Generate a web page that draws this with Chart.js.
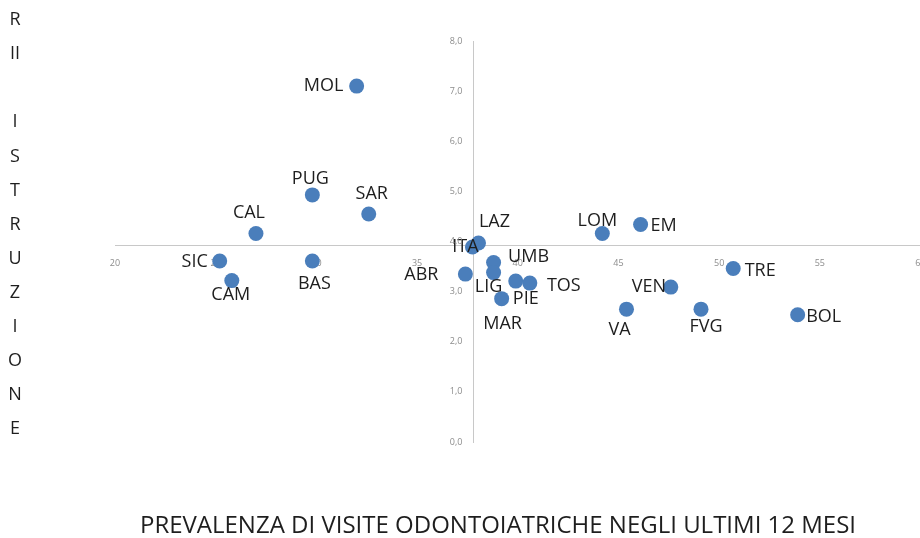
<!DOCTYPE html>
<html>
<head>
<meta charset="utf-8">
<script src="https://cdn.jsdelivr.net/npm/chart.js@4/dist/chart.umd.min.js"></script>
<style>
  html, body { margin: 0; padding: 0; background: #ffffff; }
  #wrap { width: 920px; height: 538px; position: relative; overflow: hidden; }
  #chart { display: block; }
</style>
</head>
<body>
<div id="wrap"><canvas id="chart" width="928" height="538"></canvas></div>
<script>
// Regioni: prevalenza di visite odontoiatriche (%) vs RII istruzione
const regions = ['MOL','PUG','SAR','CAL','SIC','BAS','CAM','ABR','ITA','LAZ','UMB',
                 'LIG','PIE','TOS','MAR','LOM','EM','TRE','VEN','VA','FVG','BOL'];
const prevalenza = [32.0, 29.8, 32.6, 27.0, 25.2, 29.8, 25.8, 37.4, 37.75, 38.05, 38.8,
                    38.8, 39.9, 40.6, 39.2, 44.2, 46.1, 50.7, 47.6, 45.4, 49.1, 53.9];
const riiIstruzione = [7.1, 4.93, 4.55, 4.16, 3.61, 3.61, 3.22, 3.35, 3.89, 3.97, 3.58,
                       3.38, 3.21, 3.17, 2.86, 4.16, 4.34, 3.46, 3.09, 2.65, 2.65, 2.54];

// Axis ticks and crossing point (Italia)
const xTicks = [20, 25, 30, 35, 40, 45, 50, 55, 60];
const yTicks = [0, 1, 2, 3, 4, 5, 6, 7, 8];
const crossX = 37.8;
const crossY = 3.93;

const xTitle = 'PREVALENZA DI VISITE ODONTOIATRICHE NEGLI ULTIMI 12 MESI';
const yTitleLines = ['R', 'II', '', 'I', 'S', 'T', 'R', 'U', 'Z', 'I', 'O', 'N', 'E'];

// Label placement relative to each marker (dx, dy in px)
const labelOffset = {
  MOL: [-33, 0], PUG: [-2, -16], SAR: [3, -20], CAL: [-7, -21], SIC: [-25, 1],
  BAS: [2, 23], CAM: [-1, 14], ABR: [-44, 1], ITA: [-7, 0], LAZ: [16, -21],
  UMB: [35, -6], LIG: [-5, 14], PIE: [10, 18], TOS: [34, 3], MAR: [1, 25],
  LOM: [-5, -13], EM: [23, 1], TRE: [27, 2], VEN: [-22, 0], VA: [-7, 21],
  FVG: [5, 18], BOL: [26, 2]
};

const points = regions.map((r, i) => ({ x: prevalenza[i], y: riiIstruzione[i] }));
const fmtY = (v) => v.toFixed(1).replace('.', ',');

const pointLabels = {
  id: 'pointLabels',
  afterDatasetsDraw(chart) {
    const ctx = chart.ctx;
    const meta = chart.getDatasetMeta(0);
    ctx.save();
    ctx.font = '18px "Open Sans"';
    ctx.fillStyle = '#1e1e1e';
    ctx.textAlign = 'center';
    ctx.textBaseline = 'middle';
    meta.data.forEach((el, i) => {
      const off = labelOffset[regions[i]] || [0, -16];
      ctx.fillText(regions[i], el.x + off[0], el.y + off[1]);
    });
    ctx.restore();
  }
};

// Y tick labels sit to the left of the crossing vertical axis
const yTickLabels = {
  id: 'yTickLabels',
  afterDraw(chart) {
    const ctx = chart.ctx;
    const xs = chart.scales.x, ys = chart.scales.y;
    const x0 = xs.getPixelForValue(crossX) - 11;
    ctx.save();
    ctx.font = '9px "Open Sans"';
    ctx.fillStyle = '#8c8c8c';
    ctx.textAlign = 'right';
    ctx.textBaseline = 'middle';
    ys.ticks.forEach(t => ctx.fillText(fmtY(t.value), x0, ys.getPixelForValue(t.value)));
    ctx.restore();
  }
};

const axisTitles = {
  id: 'axisTitles',
  afterDraw(chart) {
    const ctx = chart.ctx;
    ctx.save();
    ctx.fillStyle = '#1e1e1e';
    ctx.textAlign = 'center';
    ctx.textBaseline = 'middle';
    ctx.font = '24px "Open Sans"';
    ctx.fillText(xTitle, 498, 526);
    ctx.font = '18px "Open Sans"';
    yTitleLines.forEach((t, i) => {
      if (t) ctx.fillText(t, 15, 20 + i * 34.1);
    });
    ctx.restore();
  }
};

const noPad = (s) => { s.paddingLeft = 0; s.paddingRight = 0; s.paddingTop = 0; s.paddingBottom = 0; };

new Chart(document.getElementById('chart'), {
  type: 'scatter',
  data: {
    datasets: [{
      data: points,
      backgroundColor: '#4a7ebb',
      borderColor: '#4a7ebb',
      borderWidth: 0,
      pointRadius: 7.5,
      pointHoverRadius: 7.5
    }]
  },
  options: {
    responsive: false,
    animation: false,
    events: [],
    layout: { padding: { left: 115, right: 0, top: 41, bottom: 96 } },
    plugins: { legend: { display: false }, tooltip: { enabled: false } },
    scales: {
      x: {
        type: 'linear',
        position: { y: crossY },
        min: xTicks[0],
        max: xTicks[xTicks.length - 1],
        afterBuildTicks: (s) => { s.ticks = xTicks.map(v => ({ value: v })); },
        afterFit: noPad,
        grid: { display: false, drawTicks: false },
        border: { display: true, color: '#c8c8c8', width: 1 },
        ticks: {
          padding: 13,
          color: '#8c8c8c',
          font: { family: 'Open Sans', size: 9 },
          maxRotation: 0,
          autoSkip: false
        }
      },
      y: {
        type: 'linear',
        position: { x: crossX },
        min: yTicks[0],
        max: yTicks[yTicks.length - 1],
        afterBuildTicks: (s) => { s.ticks = yTicks.map(v => ({ value: v })); },
        afterFit: noPad,
        grid: { display: false, drawTicks: false },
        border: { display: true, color: '#c8c8c8', width: 1 },
        ticks: { display: false }
      }
    }
  },
  plugins: [pointLabels, yTickLabels, axisTitles]
});
</script>
</body>
</html>
